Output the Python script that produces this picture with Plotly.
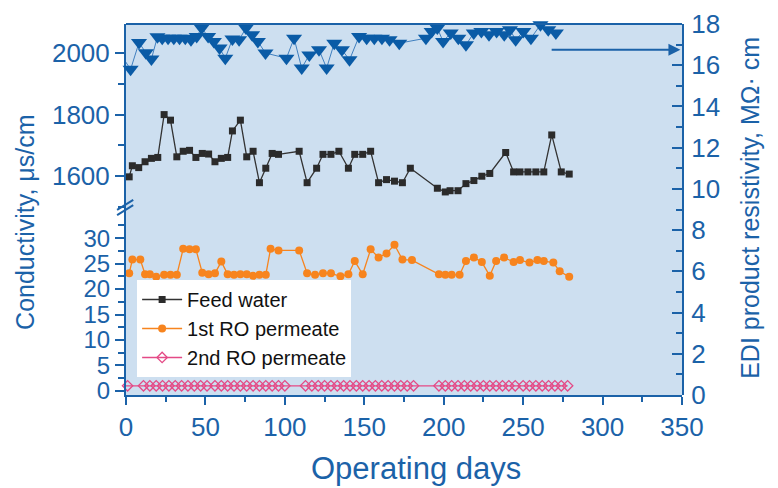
import plotly.graph_objects as go

# ---- data ----
feed_days = [2, 4, 8, 12, 16, 20, 24, 28, 32, 36, 40, 44, 48, 52, 56, 60, 64, 67, 72, 76,
             80, 84, 88, 92, 96, 109, 114, 120, 124, 129, 134, 140, 144, 149, 154, 159, 164,
             169, 174, 179, 196, 201, 204, 209, 214, 219, 224, 229, 239, 244, 248, 253, 258,
             263, 268, 274, 279]
feed_vals = [1598, 1634, 1628, 1647, 1658, 1661, 1800, 1782, 1663, 1681, 1684, 1661, 1674,
             1672, 1647, 1658, 1661, 1747, 1782, 1663, 1681, 1579, 1626, 1674, 1671, 1681,
             1579, 1626, 1671, 1671, 1681, 1626, 1671, 1671, 1681, 1579, 1589, 1584, 1579,
             1626, 1561, 1549, 1553, 1553, 1576, 1586, 1600, 1609, 1677, 1614, 1614, 1614,
             1614, 1614, 1734, 1614, 1607]

ro1_days = [2, 4, 9, 12, 15, 19, 24, 28, 32, 36, 40, 44, 48, 52, 56, 60, 64, 68, 72, 76,
            80, 84, 88, 91, 96, 109, 114, 119, 124, 129, 135, 140, 144, 149, 154, 159, 164,
            169, 174, 180, 197, 201, 205, 210, 214, 219, 224, 229, 233, 238, 244, 248, 254,
            259, 263, 269, 273, 279]
ro1_vals = [23.1, 25.8, 25.8, 22.9, 22.9, 22.4, 22.8, 22.8, 22.8, 27.9, 27.8, 27.8, 23.2,
            22.9, 23.1, 25.4, 22.9, 22.8, 22.9, 22.9, 22.6, 22.8, 22.8, 27.9, 27.6, 27.6,
            23.1, 22.8, 23.1, 23.1, 22.5, 22.9, 25.5, 22.9, 27.8, 26.2, 27.0, 28.7, 25.8,
            25.7, 22.9, 22.8, 22.8, 22.8, 25.5, 26.2, 25.3, 22.6, 25.5, 26.2, 25.3, 25.7,
            25.2, 25.7, 25.5, 25.2, 23.5, 22.4]

ro2_days = [-3, 1, 11, 15, 19, 23, 27, 31, 35, 39, 43, 47, 51, 56, 60, 64, 68, 72, 76, 80,
            84, 88, 92, 96, 100, 113, 117, 121, 125, 129, 133, 137, 141, 145, 149, 153, 157,
            161, 165, 169, 173, 177, 181, 197, 201, 205, 209, 213, 217, 221, 225, 229, 233,
            237, 241, 245, 250, 254, 258, 262, 266, 270, 274, 278]
ro2_vals = [1.0] * 25 + [1.0] * 18 + [1.0] * 21

edi_days = [-6.5, -2.3, 2.9, 8.2, 12.5, 16, 19.8, 22.8, 26.5, 30.1, 33.7, 37.3, 40.9, 44.5,
            47.6, 51.7, 55.3, 58.9, 62.5, 67, 71.2, 75.5, 79.4, 83.0, 87.8, 101, 105.8, 110.6,
            115.4, 121.5, 126.3, 131.1, 135.9, 140.7, 146.7, 151.5, 156.3, 161.1, 165.9,
            172.0, 188.8, 192.4, 196.0, 199.6, 204.4, 209.2, 214.0, 218.9, 223.7, 228.5,
            233.3, 238.1, 241.7, 245.3, 250.1, 254.9, 260.9, 265.8, 270.6]
edi_vals = [15.8, 16.4, 15.8, 17.1, 16.6, 16.3, 17.38, 17.31, 17.31, 17.31, 17.31, 17.31,
            17.23, 17.39, 17.8, 17.39, 17.15, 16.83, 16.34, 17.27, 17.23, 17.8, 17.48, 17.15,
            16.59, 16.34, 17.31, 15.86, 16.5, 16.75, 15.86, 17.07, 16.75, 16.26, 17.39, 17.31,
            17.31, 17.31, 17.23, 17.07, 17.31, 17.64, 17.8, 17.15, 17.56, 17.31, 16.99, 17.56,
            17.64, 17.48, 17.64, 17.48, 17.72, 17.23, 17.64, 17.31, 17.96, 17.72, 17.56]

x_ticks = [0, 50, 100, 150, 200, 250, 300, 350]

BLUE = '#1b62a8'
BG = '#cddff0'
FONT = 'Liberation Sans, Arial, sans-serif'

fig = go.Figure()

fig.add_trace(go.Scatter(
    x=edi_days, y=edi_vals, xaxis='x', yaxis='y3', mode='lines+markers',
    line=dict(color='#3f7fbf', width=1),
    marker=dict(symbol='triangle-down', size=14, color='#0a5ba6',
                line=dict(color='#0a5ba6', width=0)),
    showlegend=False, cliponaxis=False))

fig.add_trace(go.Scatter(
    x=feed_days, y=feed_vals, xaxis='x', yaxis='y2', mode='lines+markers',
    name='Feed water', line=dict(color='#333333', width=1.3),
    marker=dict(symbol='square', size=7, color='#2b2b2b'), cliponaxis=False))

fig.add_trace(go.Scatter(
    x=ro1_days, y=ro1_vals, xaxis='x', yaxis='y', mode='lines+markers',
    name='1st RO permeate', line=dict(color='#f7841e', width=1.3),
    marker=dict(symbol='circle', size=8, color='#f7841e'), cliponaxis=False))

fig.add_trace(go.Scatter(
    x=ro2_days, y=ro2_vals, xaxis='x', yaxis='y', mode='lines+markers',
    name='2nd RO permeate', line=dict(color='#e44a86', width=1.3),
    marker=dict(symbol='diamond-open', size=8, color='#e44a86',
                line=dict(width=1.3, color='#e44a86')), cliponaxis=False))

tickfont = dict(family=FONT, size=26, color=BLUE)
tickfont_low = dict(family=FONT, size=24, color=BLUE)

fig.update_layout(
    width=778, height=488,
    margin=dict(l=118, r=104, t=16, b=101, autoexpand=False),
    paper_bgcolor='white', plot_bgcolor='rgba(0,0,0,0)',
    font=dict(family=FONT, color=BLUE),
    xaxis=dict(range=[0, 350], tickvals=x_ticks, ticks='outside', ticklen=8, tickwidth=1.5,
               tickcolor=BLUE, showline=True, linecolor=BLUE, linewidth=2, showgrid=False,
               zeroline=False, tickfont=tickfont, anchor='y', ticklabelstandoff=0,
               automargin=False,
               minor=dict(dtick=25, tick0=0, ticks='outside', ticklen=5, tickcolor=BLUE,
                          tickwidth=1.5, showgrid=False)),
    yaxis=dict(domain=[0, 0.49], range=[-0.8, 34.9], tick0=0, dtick=5, ticks='outside',
               ticklen=9, tickwidth=1.5, tickcolor=BLUE, showline=True, linecolor=BLUE,
               linewidth=2, showgrid=False, zeroline=False, tickfont=tickfont_low, anchor='x',
               automargin=False,
               minor=dict(dtick=2.5, tick0=0, ticks='outside', ticklen=6, tickcolor=BLUE,
                          tickwidth=1.5, showgrid=False)),
    yaxis2=dict(domain=[0.49, 1], range=[1480, 2094], tick0=1600, dtick=200, ticks='outside',
                ticklen=9, tickwidth=1.5, tickcolor=BLUE, showline=True, linecolor=BLUE,
                linewidth=2, showgrid=False, zeroline=False, tickfont=tickfont, anchor='x',
                automargin=False,
                minor=dict(dtick=100, tick0=1600, ticks='outside', ticklen=6, tickcolor=BLUE,
                           tickwidth=1.5, showgrid=False)),
    yaxis3=dict(domain=[0, 1], range=[0, 18], tick0=0, dtick=2, side='right', anchor='x',
                ticks='inside', ticklen=10, tickwidth=1.5, tickcolor=BLUE, showline=True,
                linecolor=BLUE, linewidth=2, showgrid=False, zeroline=False,
                tickfont=tickfont, ticklabelstandoff=2, automargin=False,
                minor=dict(dtick=1, tick0=0, ticks='inside', ticklen=6, tickcolor=BLUE,
                           tickwidth=1.5, showgrid=False)),
    legend=dict(x=0.02, y=0.31, xanchor='left', yanchor='top', bgcolor='white',
                font=dict(family=FONT, size=20, color='#111111'), tracegroupgap=0,
                itemwidth=40),
    shapes=[
        dict(type='rect', xref='paper', yref='paper', x0=0, x1=1, y0=0, y1=1,
             fillcolor=BG, line=dict(width=0), layer='below'),
        dict(type='line', xref='paper', yref='paper', x0=0, x1=1, y0=1, y1=1,
             line=dict(color=BLUE, width=2)),
        dict(type='line', xref='paper', yref='paper', x0=-0.016, x1=0.013, y0=0.485, y1=0.512,
             line=dict(color=BLUE, width=2)),
        dict(type='line', xref='paper', yref='paper', x0=-0.016, x1=0.013, y0=0.499, y1=0.526,
             line=dict(color=BLUE, width=2)),
    ],
    annotations=[
        dict(text='Conductivity, \u03bcs/cm', xref='paper', yref='paper', x=-0.182, y=0.466,
             xanchor='center', yanchor='middle',
             textangle=-90, showarrow=False, font=dict(family=FONT, size=25, color=BLUE)),
        dict(text='EDI product resistivity, M\u03a9\u00b7 cm', xref='paper', yref='paper',
             x=1.122, y=0.504, xanchor='center', yanchor='middle', textangle=-90,
             showarrow=False, font=dict(family=FONT, size=25, color=BLUE)),
        dict(text='Operating days', xref='paper', yref='paper', x=0.522, y=-0.199,
             xanchor='center', yanchor='middle',
             showarrow=False, font=dict(family=FONT, size=31, color=BLUE)),
        dict(text='', xref='x', yref='y3', x=349, y=16.75, axref='x', ayref='y3', ax=267,
             ay=16.75, showarrow=True, arrowhead=2, arrowsize=1.2, arrowwidth=2,
             arrowcolor=BLUE),
    ],
)

fig.write_html('out.html')
